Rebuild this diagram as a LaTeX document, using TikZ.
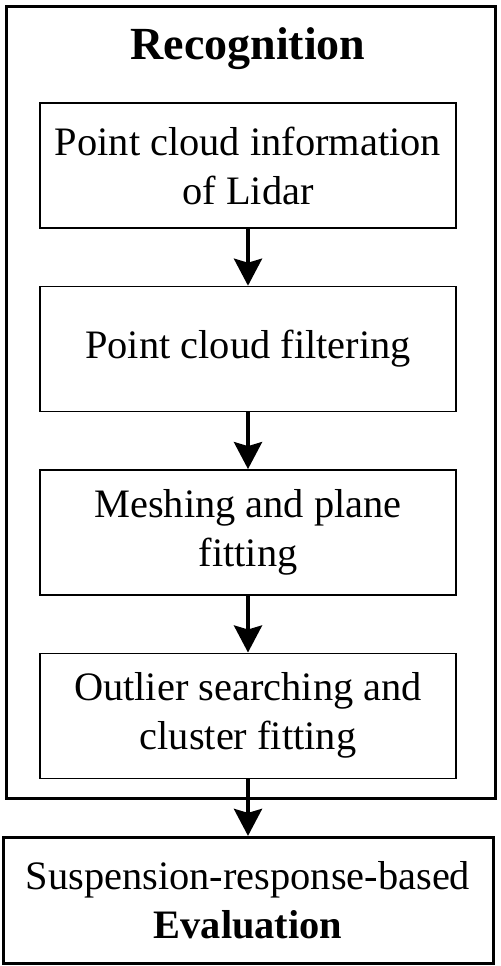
\documentclass[tikz,border=0pt]{standalone}
\usepackage{fontspec}
\setmainfont{Liberation Serif}
\usetikzlibrary{positioning, arrows.meta, calc}

\begin{document}
\begin{tikzpicture}[>={Stealth[length=13.5pt, width=14pt, inset=2pt]}, font=\fontsize{20.2}{24.5}\selectfont, node distance = 28.5pt]
\useasboundingbox (0,0) rectangle (250pt,-483pt);

\begin{scope}[minimum width=208pt, minimum height=62.5pt, align=center, line width=0.7pt]
    \node[draw] (cloud) at (124pt,-82.75pt) {Point cloud information\\of Lidar};
    \node[draw, below=of cloud] (filter) {Point cloud filtering};
    \node[draw, below=of filter] (mesh) {Meshing and plane\\fitting};
    \node[draw, below=of mesh] (cluster) {Outlier searching and\\cluster fitting};
\end{scope}

\node[font=\fontsize{23}{28}\selectfont\bfseries, above=21.5pt of cloud.north, anchor=base] (recog) {Recognition};
\node[draw, line width=1.5pt, minimum width=244.5pt, minimum height=396pt, anchor=north west] (frame) at (2.5pt,-2.5pt) {};

\node[draw, line width=1.5pt, minimum width=245pt, minimum height=63pt, align=center, below=of cluster] (eval) {Suspension-response-based\\\textbf{Evaluation}};

\draw[->, line width=2pt] (cloud) -- (filter);
\draw[->, line width=2pt] (filter) -- (mesh);
\draw[->, line width=2pt] (mesh) -- (cluster);
\draw[->, line width=2pt] (cluster) -- (eval);

\end{tikzpicture}
\end{document}
